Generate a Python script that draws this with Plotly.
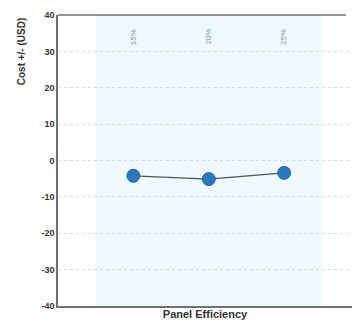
import plotly.graph_objects as go

categories = ["15%", "20%", "25%"]
cost_delta = [-4.2, -5.1, -3.4]
y_ticks = [40, 30, 20, 10, 0, -10, -20, -30, -40]

x_idx = list(range(len(categories)))

fig = go.Figure()
fig.add_trace(go.Scatter(
    x=x_idx, y=cost_delta, mode="lines+markers",
    line=dict(color="#4a5560", width=1.2),
    marker=dict(color="#2b78be", size=13, line=dict(color="#2465a3", width=1)),
    showlegend=False, hoverinfo="skip"))

fig.add_shape(type="rect", xref="x", yref="paper", x0=-0.5, x1=2.5, y0=0, y1=1,
              fillcolor="#eef9fd", line=dict(width=0), layer="below")

for i, c in enumerate(categories):
    fig.add_annotation(x=i, y=34, text=c, textangle=-90, showarrow=False,
                       font=dict(family="Liberation Sans Narrow, Arial Narrow, sans-serif", size=8, color="#8a949b"))

fig.add_annotation(xref="paper", yref="paper", x=-0.125, y=1.0, xanchor="center", yanchor="top",
                   text="<b>Cost +/- (USD)</b>", textangle=-90, showarrow=False,
                   font=dict(family="Liberation Sans Narrow, Arial Narrow, sans-serif", size=10, color="#333333"))

fig.update_layout(
    width=356, height=333,
    margin=dict(l=58, r=4, t=15, b=27),
    paper_bgcolor="white", plot_bgcolor="white",
    font=dict(family="Liberation Sans Narrow, Arial Narrow, sans-serif", color="#333333"),
    xaxis=dict(range=[-1.0, 2.9], showgrid=False, zeroline=False,
               showticklabels=False, ticks="",
               showline=True, linecolor="#707070", linewidth=1.5, mirror=False,
               title=dict(text="<b>Panel Efficiency</b>", font=dict(size=11, color="#333333"), standoff=4)),
    yaxis=dict(range=[-40, 40], tickvals=y_ticks, ticktext=[f"<b>{v}</b>" for v in y_ticks],
               tickfont=dict(size=9, color="#333333"),
               showgrid=True, gridcolor="#d4d8db", griddash="dot", gridwidth=1,
               zeroline=False, showline=True, linecolor="#707070", linewidth=1.5,
               ticks="", ticklen=0),
)
fig.add_shape(type="line", xref="paper", yref="paper", x0=0, x1=0.98, y0=1, y1=1,
              line=dict(color="#707070", width=1.5))

fig.write_html("out.html")
